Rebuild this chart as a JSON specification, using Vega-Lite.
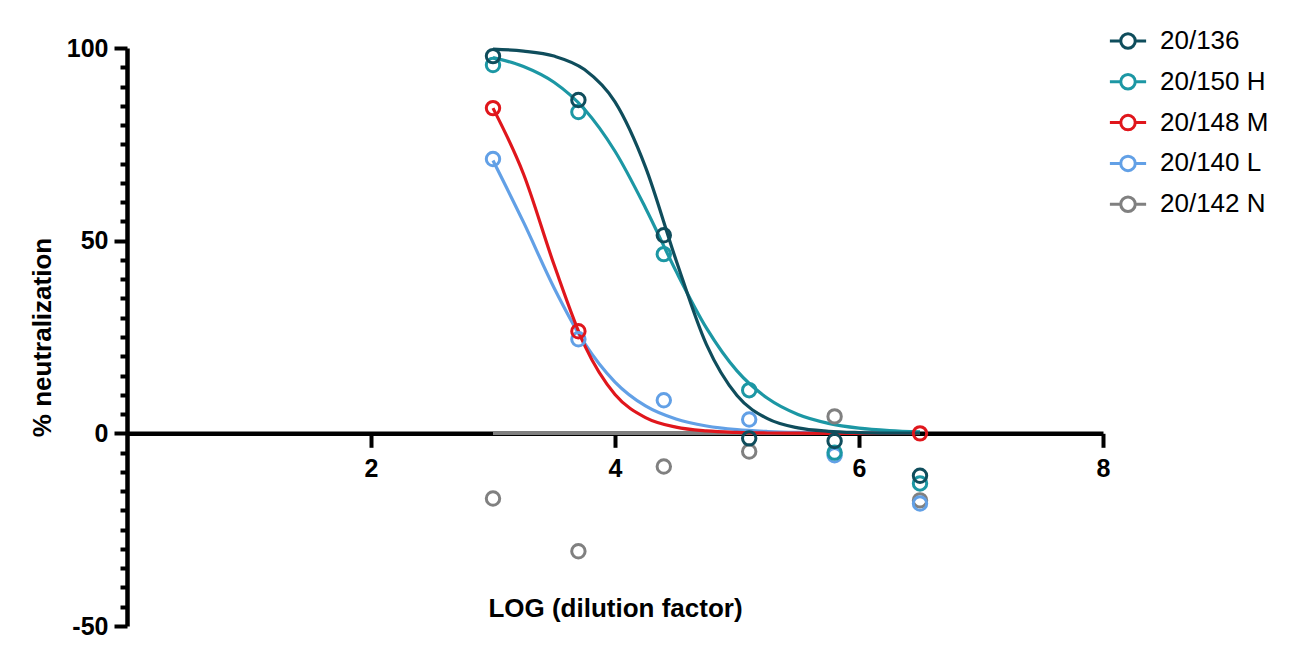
{
  "$schema": "https://vega.github.io/schema/vega-lite/v6.json",
  "width": 976,
  "height": 578,
  "autosize": "none",
  "padding": {"left": 127, "top": 48, "right": 197, "bottom": 22},
  "background": "white",
  "config": {
    "view": {"stroke": null},
    "font": "Liberation Sans"
  },
  "datasets": {
    "points": [
      {"series": "20/142 N", "logdil": 3.0, "pct": -16.9},
      {"series": "20/142 N", "logdil": 3.7, "pct": -30.6},
      {"series": "20/142 N", "logdil": 4.4, "pct": -8.6},
      {"series": "20/142 N", "logdil": 5.1, "pct": -4.7},
      {"series": "20/142 N", "logdil": 5.8, "pct": 4.4},
      {"series": "20/142 N", "logdil": 6.5, "pct": -17.4},
      {"series": "20/140 L", "logdil": 3.0, "pct": 71.2},
      {"series": "20/140 L", "logdil": 3.7, "pct": 24.4},
      {"series": "20/140 L", "logdil": 4.4, "pct": 8.6},
      {"series": "20/140 L", "logdil": 5.1, "pct": 3.6},
      {"series": "20/140 L", "logdil": 5.8, "pct": -5.7},
      {"series": "20/140 L", "logdil": 6.5, "pct": -18.2},
      {"series": "20/150 H", "logdil": 3.0, "pct": 95.6},
      {"series": "20/150 H", "logdil": 3.7, "pct": 83.4},
      {"series": "20/150 H", "logdil": 4.4, "pct": 46.5},
      {"series": "20/150 H", "logdil": 5.1, "pct": 11.2},
      {"series": "20/150 H", "logdil": 5.8, "pct": -5.0},
      {"series": "20/150 H", "logdil": 6.5, "pct": -13.0},
      {"series": "20/136", "logdil": 3.0, "pct": 97.9},
      {"series": "20/136", "logdil": 3.7, "pct": 86.5},
      {"series": "20/136", "logdil": 4.4, "pct": 51.4},
      {"series": "20/136", "logdil": 5.1, "pct": -1.3},
      {"series": "20/136", "logdil": 5.8, "pct": -2.0},
      {"series": "20/136", "logdil": 6.5, "pct": -11.0},
      {"series": "20/148 M", "logdil": 3.0, "pct": 84.4},
      {"series": "20/148 M", "logdil": 3.7, "pct": 26.5},
      {"series": "20/148 M", "logdil": 6.5, "pct": 0.0}
    ],
    "curves": [
      {"series": "20/142 N", "logdil": 3.0, "pct": 0},
      {"series": "20/142 N", "logdil": 6.5, "pct": 0},
      {"series": "20/140 L", "logdil": 3.0, "pct": 70.8},
      {"series": "20/140 L", "logdil": 3.25, "pct": 54.8},
      {"series": "20/140 L", "logdil": 3.5, "pct": 37.8},
      {"series": "20/140 L", "logdil": 3.75, "pct": 23.4},
      {"series": "20/140 L", "logdil": 4.0, "pct": 13.3},
      {"series": "20/140 L", "logdil": 4.25, "pct": 7.1},
      {"series": "20/140 L", "logdil": 4.5, "pct": 3.7},
      {"series": "20/140 L", "logdil": 4.75, "pct": 1.9},
      {"series": "20/140 L", "logdil": 5.0, "pct": 0.95},
      {"series": "20/140 L", "logdil": 5.25, "pct": 0.48},
      {"series": "20/140 L", "logdil": 5.5, "pct": 0.24},
      {"series": "20/140 L", "logdil": 5.75, "pct": 0.12},
      {"series": "20/140 L", "logdil": 6.0, "pct": 0.06},
      {"series": "20/140 L", "logdil": 6.25, "pct": 0.03},
      {"series": "20/140 L", "logdil": 6.5, "pct": 0.015},
      {"series": "20/148 M", "logdil": 3.0, "pct": 84.4},
      {"series": "20/148 M", "logdil": 3.25, "pct": 67.3},
      {"series": "20/148 M", "logdil": 3.5, "pct": 43.8},
      {"series": "20/148 M", "logdil": 3.75, "pct": 22.9},
      {"series": "20/148 M", "logdil": 4.0, "pct": 10.1},
      {"series": "20/148 M", "logdil": 4.25, "pct": 4.1},
      {"series": "20/148 M", "logdil": 4.5, "pct": 1.6},
      {"series": "20/148 M", "logdil": 4.75, "pct": 0.62},
      {"series": "20/148 M", "logdil": 5.0, "pct": 0.24},
      {"series": "20/148 M", "logdil": 5.25, "pct": 0.09},
      {"series": "20/148 M", "logdil": 5.5, "pct": 0.03},
      {"series": "20/148 M", "logdil": 6.0, "pct": 0.0},
      {"series": "20/148 M", "logdil": 6.5, "pct": 0.0},
      {"series": "20/150 H", "logdil": 3.0, "pct": 97.5},
      {"series": "20/150 H", "logdil": 3.25, "pct": 95.2},
      {"series": "20/150 H", "logdil": 3.5, "pct": 91.1},
      {"series": "20/150 H", "logdil": 3.75, "pct": 84.1},
      {"series": "20/150 H", "logdil": 4.0, "pct": 73.2},
      {"series": "20/150 H", "logdil": 4.25, "pct": 58.5},
      {"series": "20/150 H", "logdil": 4.5, "pct": 42.1},
      {"series": "20/150 H", "logdil": 4.75, "pct": 27.3},
      {"series": "20/150 H", "logdil": 5.0, "pct": 16.2},
      {"series": "20/150 H", "logdil": 5.25, "pct": 9.1},
      {"series": "20/150 H", "logdil": 5.5, "pct": 4.9},
      {"series": "20/150 H", "logdil": 5.75, "pct": 2.6},
      {"series": "20/150 H", "logdil": 6.0, "pct": 1.35},
      {"series": "20/150 H", "logdil": 6.25, "pct": 0.7},
      {"series": "20/150 H", "logdil": 6.5, "pct": 0.36},
      {"series": "20/136", "logdil": 3.0, "pct": 99.7},
      {"series": "20/136", "logdil": 3.25, "pct": 99.2},
      {"series": "20/136", "logdil": 3.5, "pct": 97.9},
      {"series": "20/136", "logdil": 3.75, "pct": 94.4},
      {"series": "20/136", "logdil": 4.0, "pct": 86.0},
      {"series": "20/136", "logdil": 4.25, "pct": 69.1},
      {"series": "20/136", "logdil": 4.5, "pct": 45.0},
      {"series": "20/136", "logdil": 4.75, "pct": 23.0},
      {"series": "20/136", "logdil": 5.0, "pct": 9.8},
      {"series": "20/136", "logdil": 5.25, "pct": 3.8},
      {"series": "20/136", "logdil": 5.5, "pct": 1.4},
      {"series": "20/136", "logdil": 5.75, "pct": 0.53},
      {"series": "20/136", "logdil": 6.0, "pct": 0.2},
      {"series": "20/136", "logdil": 6.25, "pct": 0.07},
      {"series": "20/136", "logdil": 6.5, "pct": 0.03}
    ]
  },
  "encoding": {
    "x": {
      "field": "logdil",
      "type": "quantitative",
      "scale": {"domain": [0, 8], "nice": false, "zero": false},
      "axis": {
        "title": "LOG (dilution factor)",
        "titleFont": "Liberation Sans",
        "titleFontSize": 26,
        "titleFontWeight": "bold",
        "titleColor": "black",
        "titleBaseline": "middle",
        "titleY": 175,
        "offset": -192.7,
        "values": [2, 4, 6, 8],
        "grid": false,
        "domainColor": "black",
        "domainWidth": 4.5,
        "tickColor": "black",
        "tickWidth": 4,
        "tickSize": 14,
        "labelFont": "Liberation Sans",
        "labelFontSize": 25,
        "labelFontWeight": "bold",
        "labelColor": "black",
        "labelPadding": 9,
        "labelFlush": false
      }
    },
    "y": {
      "field": "pct",
      "type": "quantitative",
      "scale": {"domain": [-50, 100], "nice": false, "zero": false},
      "axis": {
        "title": "% neutralization",
        "titleFont": "Liberation Sans",
        "titleFontSize": 26,
        "titleFontWeight": "bold",
        "titleColor": "black",
        "titleX": -85,
        "titleY": 289,
        "titleBaseline": "middle",
        "values": [-50, -45, -40, -35, -30, -25, -20, -15, -10, -5, 0, 5, 10, 15, 20, 25, 30, 35, 40, 45, 50, 55, 60, 65, 70, 75, 80, 85, 90, 95, 100],
        "labelExpr": "datum.value % 50 === 0 ? toString(datum.value) : ''",
        "grid": false,
        "domainColor": "black",
        "domainWidth": 4.5,
        "tickColor": "black",
        "tickWidth": 4,
        "tickSize": {"condition": {"test": "datum.value % 50 === 0", "value": 13}, "value": 7},
        "labelFont": "Liberation Sans",
        "labelFontSize": 25,
        "labelFontWeight": "bold",
        "labelColor": "black",
        "labelPadding": 6,
        "labelFlush": false
      }
    },
    "color": {
      "field": "series",
      "type": "nominal",
      "scale": {
        "domain": ["20/136", "20/150 H", "20/148 M", "20/140 L", "20/142 N"],
        "range": ["#0f4d5c", "#1c97a4", "#e0161c", "#62a0e6", "#808080"]
      },
      "legend": {
        "title": null,
        "orient": "none",
        "legendX": 988,
        "legendY": -20,
        "padding": 0,
        "symbolType": "M-2.5,0L-1,0M1,0L2.5,0M1,0A1,1 0 1 1 -1,0A1,1 0 1 1 1,0",
        "symbolSize": 210,
        "symbolStrokeWidth": 3,
        "symbolFillColor": "white",
        "labelFont": "Liberation Sans",
        "labelFontSize": 26,
        "labelColor": "black",
        "labelOffset": 19,
        "rowPadding": 12.8
      }
    }
  },
  "layer": [
    {
      "data": {"name": "curves"},
      "mark": {"type": "line", "interpolate": "monotone", "strokeWidth": 3.2},
      "encoding": {"detail": {"field": "series"}}
    },
    {
      "data": {"name": "points"},
      "mark": {"type": "point", "shape": "circle", "filled": false, "size": 180, "strokeWidth": 3, "opacity": 1}
    }
  ]
}
